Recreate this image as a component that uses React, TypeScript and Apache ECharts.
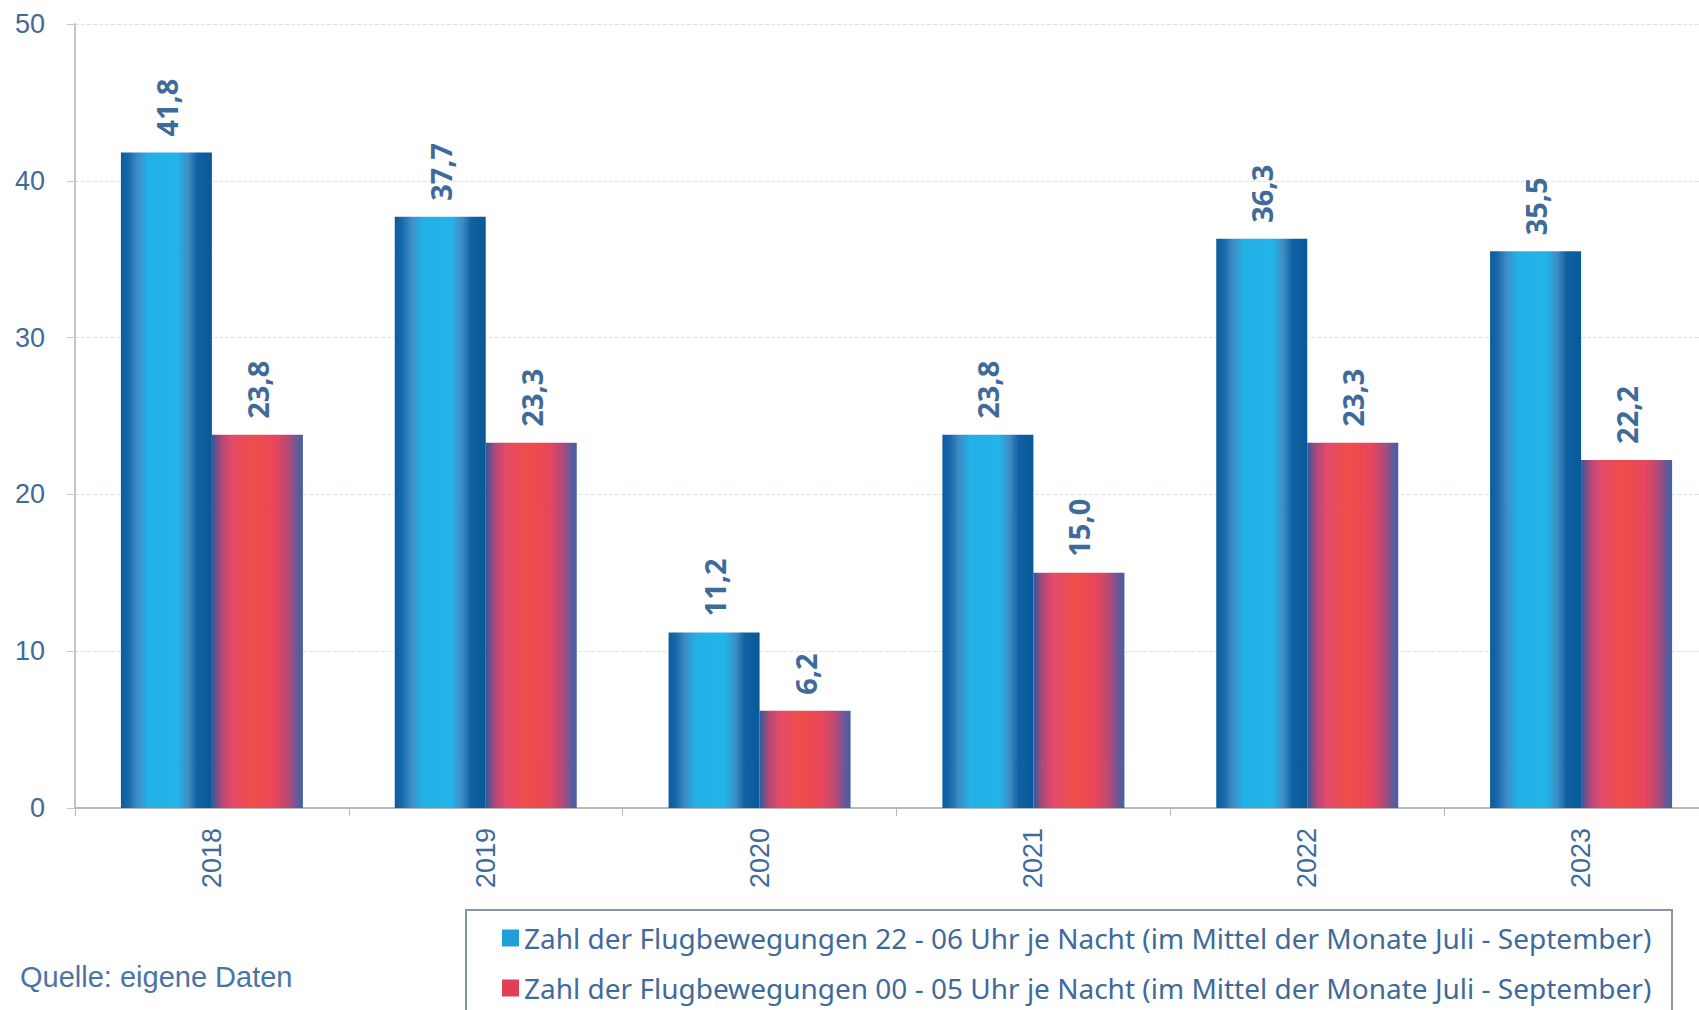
import React, { useEffect, useRef } from "react";
import * as echarts from "echarts";

const categories = ["2018", "2019", "2020", "2021", "2022", "2023"];
const nightMovements22to06 = [41.8, 37.7, 11.2, 23.8, 36.3, 35.5];
const nightMovements00to05 = [23.8, 23.3, 6.2, 15.0, 23.3, 22.2];
const yTicks = { min: 0, max: 50, interval: 10 };
const seriesNames = [
  "Zahl der Flugbewegungen 22 - 06 Uhr je Nacht (im Mittel der Monate Juli - September)",
  "Zahl der Flugbewegungen 00 - 05 Uhr je Nacht (im Mittel der Monate Juli - September)",
];
const sourceText = "Quelle: eigene Daten";

const TEXT_BLUE = "#3f6a9a";

const blueGrad = new echarts.graphic.LinearGradient(0, 0, 1, 0, [
  { offset: 0, color: "#0b5c9e" },
  { offset: 0.08, color: "#1668aa" },
  { offset: 0.18, color: "#3f8cc4" },
  { offset: 0.3, color: "#22b0e6" },
  { offset: 0.62, color: "#22b4e8" },
  { offset: 0.74, color: "#3f8cc4" },
  { offset: 0.84, color: "#0e60a2" },
  { offset: 1, color: "#0a5a9a" },
]);
const redGrad = new echarts.graphic.LinearGradient(0, 0, 1, 0, [
  { offset: 0, color: "#2e5a9c" },
  { offset: 0.1, color: "#b04878" },
  { offset: 0.22, color: "#e44a6a" },
  { offset: 0.45, color: "#ee4e48" },
  { offset: 0.7, color: "#e8465c" },
  { offset: 0.85, color: "#b04a78" },
  { offset: 0.95, color: "#5a5c9e" },
  { offset: 1, color: "#4a5ea0" },
]);

const fmt = (p: any) => Number(p.value).toFixed(1).replace(".", ",");

export default function App() {
  const ref = useRef<HTMLDivElement>(null);
  useEffect(() => {
    if (!ref.current) return;
    const chart = echarts.init(ref.current, undefined, { renderer: "svg" });
    const label = {
      show: true,
      position: "top",
      rotate: 90,
      align: "left",
      verticalAlign: "middle",
      distance: 16,
      fontSize: 29,
      fontWeight: "bold",
      fontFamily: "Noto Sans",
      color: TEXT_BLUE,
      formatter: fmt,
    };
    chart.setOption({
      animation: false,
      backgroundColor: "#ffffff",
      grid: { left: 75, top: 24, width: 1643, height: 784, containLabel: false },
      xAxis: {
        type: "category",
        data: categories,
        boundaryGap: true,
        axisLine: { show: true, lineStyle: { color: "#b8b8b8", width: 2 } },
        axisTick: { show: true, alignWithLabel: false, length: 8, lineStyle: { color: "#b8b8b8" } },
        axisLabel: {
          rotate: 90,
          margin: 20,
          fontSize: 27,
          fontFamily: "Liberation Sans",
          color: TEXT_BLUE,
        },
        splitLine: { show: false },
      },
      yAxis: {
        type: "value",
        min: yTicks.min,
        max: yTicks.max,
        interval: yTicks.interval,
        axisLine: { show: true, lineStyle: { color: "#c4c4c4", width: 2 } },
        axisTick: { show: true, length: 8, lineStyle: { color: "#c4c4c4" } },
        axisLabel: {
          margin: 30,
          fontSize: 27,
          fontFamily: "Liberation Sans",
          color: TEXT_BLUE,
        },
        splitLine: { show: true, lineStyle: { color: "#dde3eb", type: "dashed", width: 1 } },
      },
      legend: {
        orient: "vertical",
        left: 502,
        top: 924,
        padding: 0,
        itemWidth: 17,
        itemHeight: 17,
        itemGap: 22,
        icon: "rect",
        data: [
          { name: seriesNames[0], itemStyle: { color: "#1e9fdc" } },
          { name: seriesNames[1], itemStyle: { color: "#e23e56" } },
        ],
        textStyle: {
          fontSize: 28,
          lineHeight: 28,
          fontFamily: "Noto Sans",
          color: TEXT_BLUE,
        },
      },
      graphic: [
        {
          type: "rect",
          shape: { x: 466, y: 910, width: 1206, height: 140 },
          style: { fill: "none", stroke: "#8596ab", lineWidth: 2 },
          z: 10,
        },
        {
          type: "text",
          left: 20,
          top: 962,
          style: {
            text: sourceText,
            fontSize: 29,
            fontFamily: "Liberation Sans",
            fill: "#4a74a4",
          },
        },
      ],
      series: [
        {
          name: seriesNames[0],
          type: "bar",
          data: nightMovements22to06,
          barWidth: 91,
          barGap: "0%",
          itemStyle: { color: blueGrad },
          label,
        },
        {
          name: seriesNames[1],
          type: "bar",
          data: nightMovements00to05,
          barWidth: 91,
          barGap: "0%",
          itemStyle: { color: redGrad },
          label,
        },
      ],
    });
    return () => chart.dispose();
  }, []);
  return (
    <div
      style={{
        position: "absolute",
        left: 0,
        top: 0,
        width: 1699,
        height: 1010,
        overflow: "hidden",
        background: "#ffffff",
      }}
    >
      <div ref={ref} style={{ width: 1720, height: 1010 }} />
    </div>
  );
}
